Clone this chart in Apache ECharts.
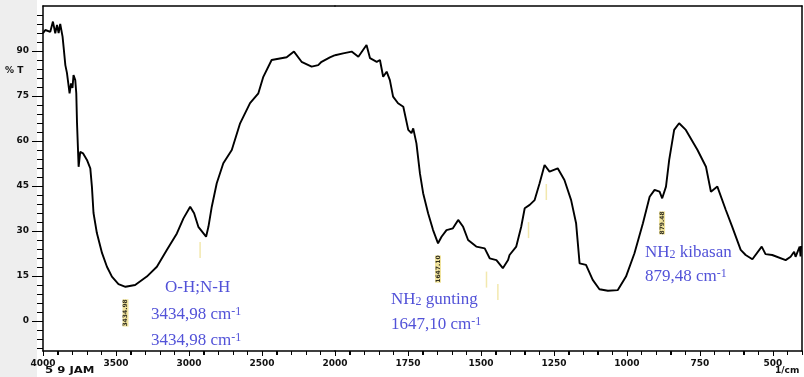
<!DOCTYPE html>
<html><head><meta charset="utf-8">
<script src="https://cdn.jsdelivr.net/npm/echarts@6/dist/echarts.min.js"></script>
<style>html,body{margin:0;padding:0;background:#fff}#c{width:804px;height:377px}</style>
</head><body><div id="c"></div>
<script>
// ---- data ----
const wavenumbers = [4000,3984,3950,3932,3916,3904,3893,3882,3866,3859,3847,3836,3825,3818,3808,3798,3791,3779,3772,3767,3756,3745,3726,3699,3676,3665,3654,3631,3596,3562,3528,3483,3435,3369,3289,3220,3152,3083,3038,2992,2965,2936,2883,2867,2844,2810,2765,2707,2650,2582,2525,2491,2434,2331,2281,2229,2160,2115,2092,2035,2000,
1972,1943,1920,1892,1880,1857,1846,1835,1823,1812,1801,1784,1766,1749,1738,1732,1721,1709,1698,1681,1664,1647,1635,1618,1596,1578,1561,1544,1516,1487,1470,1447,1425,1407,1402,1379,1362,1350,1333,1316,1299,1282,1265,1237,1214,1191,1174,1162,1140,1117,1094,1065,1031,1003,974,945,922,905,888,879,866,855,838,821,798,758,729,712,690,661,639,610,593,570,538,525,502,456,439,427,422,408,405,403];
const transmittance = [95.9,97,96.4,99.8,95.9,98.7,96,99,94.8,91.4,85.3,82.7,83.1,75.9,79.2,77.7,82,80.3,75.9,66,51.4,56.4,55.9,53.7,50.9,44.8,36,29.3,22.7,18.1,14.8,12.3,11.4,12,14.8,18.1,23.7,29.2,34.2,38.1,35.9,31.4,28.1,31.4,38.1,45.9,52.6,57,65.9,72.6,75.9,81.4,87,87.9,89.8,86.4,84.8,85.3,86.4,87.9,88.6,
89.2,89.8,88.1,92,87.6,86.4,87,81.4,83.1,80.3,74.8,72.6,71.4,63.7,62.6,64.2,59.2,49.2,42.6,35.9,30.3,25.9,28.1,30.3,30.9,33.7,31.4,27,24.8,24.2,20.9,20.3,17.6,20.3,22,24.8,31.4,37.6,38.7,40.3,45.9,52,49.8,50.9,47,40.3,32.6,19.2,18.7,13.7,10.6,10.1,10.3,14.8,22.6,32.6,41.4,43.7,43.1,40.9,44.8,53.7,63.7,65.9,63.7,57,51.4,43.1,44.8,37,31.4,23.7,22,20.6,24.8,22.3,22,20.3,21.4,23.1,21.4,24.8,21.5,25];
const xLabelsHigh = [4000,3500,3000,2500];
const xLabelsLow = [2000,1750,1500,1250,1000,750,500];
const yLabels = [0,15,30,45,60,75,90];
const peakWn = [3434.98, 1647.10, 879.48];
const peakMarkT = [3.7, 18.3, 33.7];
const minorPeakWn = [2924, 1481, 1442, 1337, 1276];
const minorPeakT = [23.7, 13.8, 9.7, 30.3, 43];
const annotationLines = [
  ['O-H;N-H'],
  ['3434,98 cm', '-1'],
  ['3434,98 cm', '-1'],
  ['NH', '2', ' gunting'],
  ['1647,10 cm', '-1'],
  ['NH', '2', ' kibasan'],
  ['879,48 cm', '-1']
];

// ---- tick values ----
const xTicksHigh = []; for (let v = 2100; v <= 4000; v += 100) xTicksHigh.push(v);
const xTicksLow = []; for (let v = 400; v <= 2000; v += 50) xTicksLow.push(v);
const yTicks = []; for (let v = -9; v <= 104; v += 3) yTicks.push(v);

// ---- build ----
function part(ws, ts, high) {
  const out = [];
  for (let i = 0; i < ws.length; i++) {
    const w = ws[i];
    if (high ? w >= 2000 : w <= 2000) out.push([w, ts[i]]);
  }
  return out;
}
function pick(ws, ts, high) {
  const out = [];
  for (let i = 0; i < ws.length; i++) if (high ? ws[i] > 2000 : ws[i] < 2000) out.push([ws[i], ts[i]]);
  return out;
}

const AX = '#000';
const tickFont = {fontFamily: 'DejaVu Sans', fontWeight: 'bold', fontSize: 9, color: '#111', formatter: v => String(v)};
function bottomAxis(grid, min, max, interval, labels) {
  return {type: 'value', gridIndex: grid, min: min, max: max, interval: interval, inverse: true, position: 'bottom',
    axisLine: {onZero: false, lineStyle: {color: AX, width: 1.5}},
    axisTick: {show: true, length: 4, lineStyle: {color: '#000', width: 1}},
    axisLabel: Object.assign({customValues: labels, margin: 8}, tickFont),
    splitLine: {show: false}};
}
function frameX(grid, min, max) {
  return {type: 'value', gridIndex: grid, min: min, max: max, inverse: true, position: 'top',
    axisLine: {onZero: false, lineStyle: {color: AX, width: 1.5}},
    axisTick: {show: false}, axisLabel: {show: false}, splitLine: {show: false}};
}

const annTop = [279, 306, 332, 291, 316, 244, 268];
const annLeft = [165, 151, 151, 391, 391, 645, 645];
const annColor = '#5252d8';
const serif = '"Liberation Serif", "Times New Roman", serif';
const rich = {
  m: {fontFamily: serif, fontSize: 17, lineHeight: 17, fill: annColor, verticalAlign: 'bottom'},
  sup: {fontFamily: serif, fontSize: 12, lineHeight: 12, fill: annColor, verticalAlign: 'top'},
  sub: {fontFamily: serif, fontSize: 12, lineHeight: 12, fill: annColor, verticalAlign: 'bottom'}
};
const graphics = [
  {type: 'rect', left: 0, top: 0, z: -10, shape: {width: 37, height: 377}, style: {fill: '#eeeeee'}},
  {type: 'text', left: 5, top: 66, style: {text: '% T', font: 'bold 9px "DejaVu Sans"', fill: '#111'}},
  {type: 'text', x: 45, y: 366, scaleX: 1.3, style: {text: '5 9 JAM', font: 'bold 9px "DejaVu Sans"', fill: '#111'}},
  {type: 'text', left: 775, top: 366, style: {text: '1/cm', font: 'bold 9px "DejaVu Sans"', fill: '#111'}}
];
annotationLines.forEach((parts, i) => {
  let txt;
  if (parts.length === 1) txt = '{m|' + parts[0] + '}';
  else if (parts.length === 2) txt = '{m|' + parts[0] + '}{sup|' + parts[1] + '}';
  else txt = '{m|' + parts[0] + '}{sub|' + parts[1] + '}{m|' + parts[2] + '}';
  graphics.push({type: 'text', left: annLeft[i], top: annTop[i], style: {text: txt, rich: rich}});
});

function peakSeries(high, xi, yi) {
  return {type: 'scatter', xAxisIndex: xi, yAxisIndex: yi, symbolSize: 1, itemStyle: {color: 'rgba(0,0,0,0)'},
    data: pick(peakWn, peakMarkT, high),
    label: {show: true, position: 'inside', rotate: 90, offset: [-3, 0], fontSize: 6, fontWeight: 'bold',
      fontFamily: 'DejaVu Sans', color: '#000', backgroundColor: '#ecdc84',
      formatter: p => p.value[0].toFixed(2)}, z: 5, silent: true};
}
function minorSeries(high, xi, yi) {
  return {type: 'scatter', xAxisIndex: xi, yAxisIndex: yi, symbol: 'rect', symbolSize: [1.5, 16],
    itemStyle: {color: '#efe29a'},
    data: pick(minorPeakWn, minorPeakT, high),
    silent: true, z: 1};
}
// axis ticks drawn through the cartesian's own scale (api.coord), as filled rects
function xTickSeries(xi, yi, values, majorStep) {
  return {type: 'custom', xAxisIndex: xi, yAxisIndex: yi, clip: false, silent: true, z: 10,
    data: values.map(v => [v, -10]),
    renderItem: function (params, api) {
      const v = api.value(0);
      const p = api.coord([v, api.value(1)]);
      const len = (v % majorStep === 0) ? 5 : 4;
      return {type: 'rect', shape: {x: Math.round(p[0]), y: Math.round(p[1]), width: 1, height: len},
        style: {fill: '#000'}};
    }};
}
function yTickSeries(values) {
  return {type: 'custom', xAxisIndex: 0, yAxisIndex: 0, clip: false, silent: true, z: 10,
    data: values.map(v => [4000, v]),
    renderItem: function (params, api) {
      const v = api.value(1);
      const p = api.coord([api.value(0), v]);
      const major = yLabels.indexOf(v) >= 0;
      const len = major ? 11 : 6;
      return {type: 'rect', shape: {x: Math.round(p[0]) - len, y: Math.round(p[1]), width: len, height: 1},
        style: {fill: '#000'}};
    }};
}

// plot area: top 6, 345px tall for -10..105 (3 px per %T); x split at 2000
const option = {
  backgroundColor: '#fff',
  animation: false,
  grid: [
    {left: 43, top: 6, width: 292, height: 345},
    {left: 335, top: 6, width: 467, height: 345}
  ],
  xAxis: [
    bottomAxis(0, 2000, 4000, 100, xLabelsHigh),
    bottomAxis(1, 400, 2000, 50, xLabelsLow),
    frameX(0, 2000, 4000),
    frameX(1, 400, 2000)
  ],
  yAxis: [
    {type: 'value', gridIndex: 0, min: -10, max: 105, position: 'left',
      axisLine: {show: true, onZero: false, lineStyle: {color: AX, width: 1.5}},
      axisTick: {show: true, customValues: yLabels, length: 11, lineStyle: {color: '#000', width: 1}},
      axisLabel: Object.assign({customValues: yLabels, margin: 14}, tickFont),
      splitLine: {show: false}},
    {type: 'value', gridIndex: 1, min: -10, max: 105, position: 'right',
      axisLine: {show: true, onZero: false, lineStyle: {color: AX, width: 1.5}},
      axisTick: {show: false}, axisLabel: {show: false}, splitLine: {show: false}}
  ],
  series: [
    {type: 'line', xAxisIndex: 0, yAxisIndex: 0, data: part(wavenumbers, transmittance, true),
      showSymbol: false, lineStyle: {color: '#000', width: 1.9}, z: 3, silent: true},
    {type: 'line', xAxisIndex: 1, yAxisIndex: 1, data: part(wavenumbers, transmittance, false),
      showSymbol: false, lineStyle: {color: '#000', width: 1.9}, z: 3, silent: true},
    peakSeries(true, 0, 0), peakSeries(false, 1, 1),
    minorSeries(true, 0, 0), minorSeries(false, 1, 1),
    xTickSeries(0, 0, xTicksHigh, 500),
    xTickSeries(1, 1, xTicksLow, 250),
    yTickSeries(yTicks)
  ],
  graphic: graphics
};
const chart = echarts.init(document.getElementById('c'), null, {renderer: 'canvas'});
chart.setOption(option);
</script>
</body></html>
